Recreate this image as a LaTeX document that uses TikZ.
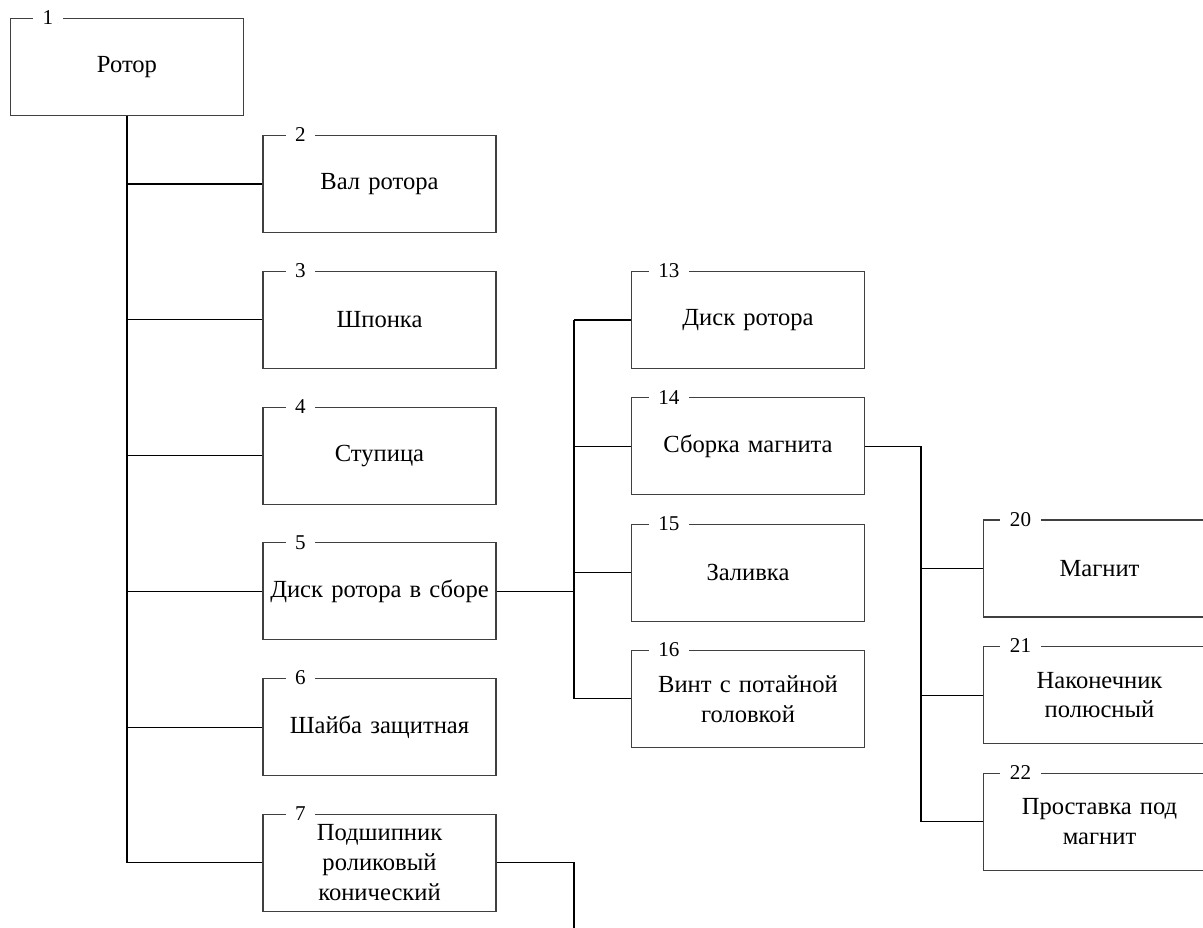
\documentclass[tikz,border=0pt]{standalone}
\usepackage{fontspec}
\setmainfont{Liberation Serif}
\usetikzlibrary{positioning}
\tikzstyle{blk}=[draw=black!75, rectangle, minimum width=4.66cm, minimum height=1.94cm, inner sep=2pt, text width=4.4cm, align=center, font=\fontsize{14}{17}\selectfont]
\tikzstyle{num}=[fill=white, inner xsep=0.19cm, inner ysep=1pt, font=\fontsize{12}{12}\selectfont]
\begin{document}
\begin{tikzpicture}[x=0.02cm, y=-0.02cm, line width=0.6pt]
	\path[use as bounding box, clip] (0,0) rectangle (1203,928);
	% level 1
	\node[blk] (Rotor) at (127,67) {Ротор};
	% level 2
	\node[blk] (Val) at (379.5,184) {Вал ротора};
	\node[blk] (Shp) [below = 0.755cm of Val] {Шпонка};
	\node[blk] (Stup) [below = 0.755cm of Shp] {Ступица};
	\node[blk] (DiskSb) [below = 0.755cm of Stup] {Диск ротора в сборе};
	\node[blk] (Shaiba) [below = 0.755cm of DiskSb] {Шайба защитная};
	\node[blk] (Pod) [below = 0.755cm of Shaiba] {Подшипник\\роликовый\\конический};
	% level 3
	\node[blk] (DiskR) at (748,320) {Диск ротора};
	\node[blk] (SbM) [below = 0.565cm of DiskR] {Сборка магнита};
	\node[blk] (Zal) [below = 0.565cm of SbM] {Заливка};
	\node[blk] (Vint) [below = 0.565cm of Zal] {Винт с потайной\\головкой};
	% level 4
	\node[blk] (Magn) at (1099.5,568.5) {Магнит};
	\node[blk] (Nak) [below = 0.57cm of Magn] {Наконечник\\полюсный};
	\node[blk] (Prost) [below = 0.57cm of Nak] {Проставка под\\магнит};
	% numbers on the top border
	\foreach \b/\n in {Rotor/1, Val/2, Shp/3, Stup/4, DiskSb/5, Shaiba/6, Pod/7,
		DiskR/13, SbM/14, Zal/15, Vint/16, Magn/20, Nak/21, Prost/22}
		\node[num] (n\n) at ([xshift=0.76cm]\b.north west) {\n};
	% bus lines
	\coordinate (busA) at (574,0);
	\coordinate (busBend) at (574,935);
	\coordinate (busC) at (921,0);

	\draw[line width=1.2pt] (Rotor.south) -- (Rotor.south |- Pod.west);
	\foreach \b in {Val,Shp,Stup,DiskSb,Shaiba,Pod}
		\draw (Rotor.south |- \b.west) -- (\b.west);
	\draw[line width=0.9pt] (DiskSb.east) -- (DiskSb.east -| busA);
	\draw (busA |- DiskR.west) -- (busA |- Vint.west);
	\foreach \b in {DiskR,SbM,Zal,Vint}
		\draw (busA |- \b.west) -- (\b.west);
	\draw (Pod.east) -- (Pod.east -| busA) -- (busBend);
	\draw (SbM.east) -- (SbM.east -| busC) -- (busC |- Prost.west);
	\foreach \b in {Magn,Nak,Prost}
		\draw (busC |- \b.west) -- (\b.west);
\end{tikzpicture}
\end{document}
